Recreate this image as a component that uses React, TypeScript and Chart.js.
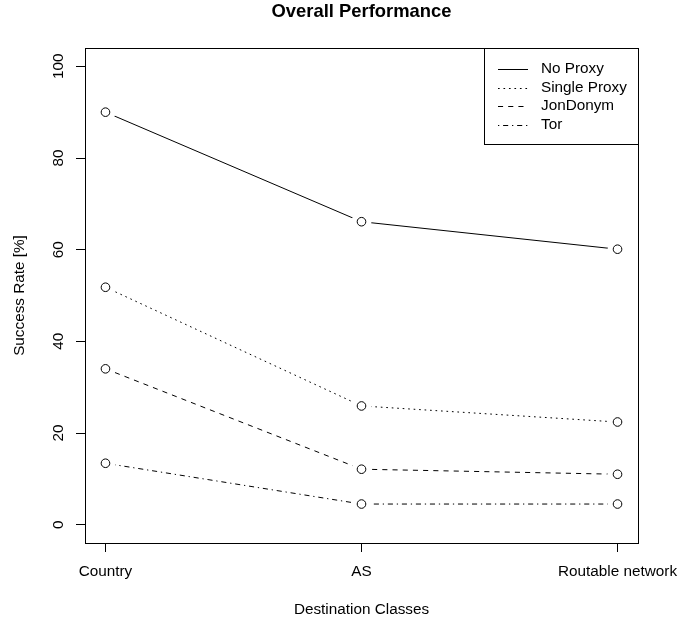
import React, { useEffect, useRef } from "react";
import { Chart, registerables } from "chart.js";

Chart.register(...registerables);

const categories = ["Country", "AS", "Routable network"];
const seriesNames = ["No Proxy", "Single Proxy", "JonDonym", "Tor"];
const noProxy = [90, 66.1, 60.1];
const singleProxy = [51.8, 25.9, 22.4];
const jonDonym = [34.0, 12.1, 11.0];
const tor = [13.4, 4.5, 4.5];
const yTicks = [0, 20, 40, 60, 80, 100];
const xTicks = [1, 2, 3];
const titleText = "Overall Performance";

const FONT = "'Liberation Sans', Arial, Helvetica, sans-serif";
const BASE = 15.3;
const S = BASE / 12;
const dashes: number[][] = [
  [],
  [1.3 * S, 3 * S],
  [4 * S, 4 * S],
  [1 * S, 3 * S, 4 * S, 3 * S],
];
const seriesValues = [noProxy, singleProxy, jonDonym, tor];

const frameAndLegend = {
  id: "frameAndLegend",
  afterDraw(chart: any) {
    const { ctx, chartArea } = chart;
    ctx.save();
    ctx.strokeStyle = "#000";
    ctx.lineWidth = 1;
    ctx.setLineDash([]);
    ctx.strokeRect(
      Math.round(chartArea.left) + 0.5,
      Math.round(chartArea.top) + 0.5,
      Math.round(chartArea.right - chartArea.left),
      Math.round(chartArea.bottom - chartArea.top)
    );
    // title
    ctx.fillStyle = "#000";
    ctx.font = `bold 18.4px ${FONT}`;
    ctx.textAlign = "center";
    ctx.textBaseline = "middle";
    ctx.fillText(titleText, (chartArea.left + chartArea.right) / 2, 12);
    // legend
    const w = 154;
    const h = 96;
    const lx = Math.round(chartArea.right) - w;
    const ly = Math.round(chartArea.top);
    ctx.fillStyle = "#fff";
    ctx.fillRect(lx + 0.5, ly + 0.5, w, h);
    ctx.strokeRect(lx + 0.5, ly + 0.5, w, h);
    ctx.font = `${BASE}px ${FONT}`;
    ctx.textBaseline = "middle";
    ctx.textAlign = "left";
    seriesNames.forEach((name, i) => {
      const yy = ly + 21 + i * 18.6;
      ctx.beginPath();
      ctx.setLineDash(dashes[i]);
      ctx.moveTo(lx + 14, Math.round(yy) + 0.5);
      ctx.lineTo(lx + 44, Math.round(yy) + 0.5);
      ctx.stroke();
      ctx.setLineDash([]);
      ctx.fillStyle = "#000";
      ctx.fillText(name, lx + 57, yy);
    });
    ctx.restore();
  },
};

export default function App() {
  const ref = useRef<HTMLCanvasElement | null>(null);
  useEffect(() => {
    if (!ref.current) return;
    const toPts = (arr: number[]) => arr.map((v, i) => ({ x: xTicks[i], y: v }));
    const datasets: any[] = [];
    seriesValues.forEach((vals, i) => {
      datasets.push({
        label: seriesNames[i],
        data: toPts(vals),
        borderColor: "#000",
        borderWidth: 1,
        borderDash: dashes[i],
        pointRadius: 0,
        fill: false,
        tension: 0,
        order: 3,
      });
    });
    seriesValues.forEach((vals, i) => {
      datasets.push({
        label: seriesNames[i] + " gap",
        data: toPts(vals),
        showLine: false,
        pointRadius: 10,
        pointBackgroundColor: "#fff",
        pointBorderWidth: 0,
        pointBorderColor: "#fff",
        order: 2,
      });
    });
    seriesValues.forEach((vals, i) => {
      datasets.push({
        label: seriesNames[i] + " pts",
        data: toPts(vals),
        showLine: false,
        pointRadius: 4.3,
        pointBackgroundColor: "#fff",
        pointBorderColor: "#000",
        pointBorderWidth: 1,
        order: 1,
      });
    });
    const chart = new Chart(ref.current, {
      type: "line",
      data: { datasets },
      options: {
        animation: false,
        responsive: false,
        devicePixelRatio: 1,
        events: [],
        layout: { padding: { left: 0, right: 44, top: 48, bottom: 0 } },
        plugins: {
          legend: { display: false },
          tooltip: { enabled: false },
          title: { display: false },
        },
        scales: {
          x: {
            type: "linear",
            min: 0.92,
            max: 3.08,
            afterBuildTicks: (scale: any) => {
              scale.ticks = xTicks.map((v) => ({ value: v }));
            },
            afterFit: (scale: any) => {
              scale.height = 83;
              scale.paddingLeft = 0;
              scale.paddingRight = 0;
            },
            ticks: {
              color: "#000",
              font: { family: FONT, size: BASE },
              padding: 11,
              maxRotation: 0,
              minRotation: 0,
              autoSkip: false,
              callback: (v: any) => categories[Math.round(Number(v)) - 1] ?? "",
            },
            grid: {
              display: true,
              drawOnChartArea: false,
              drawTicks: true,
              tickLength: 9,
              color: "#000",
              tickColor: "#000",
              lineWidth: 1,
            },
            border: { display: false },
            title: {
              display: true,
              text: "Destination Classes",
              color: "#000",
              font: { family: FONT, size: BASE, lineHeight: 1.2 },
              padding: { top: 0, bottom: 7 },
            },
          },
          y: {
            type: "linear",
            min: -4,
            max: 104,
            afterBuildTicks: (scale: any) => {
              scale.ticks = yTicks.map((v) => ({ value: v }));
            },
            afterFit: (scale: any) => {
              scale.width = 85;
              scale.paddingTop = 0;
              scale.paddingBottom = 0;
            },
            ticks: {
              color: "#000",
              font: { family: FONT, size: BASE },
              padding: 4,
              minRotation: 90,
              maxRotation: 90,
              crossAlign: "center",
              autoSkip: false,
            },
            grid: {
              display: true,
              drawOnChartArea: false,
              drawTicks: true,
              tickLength: 9,
              color: "#000",
              tickColor: "#000",
              lineWidth: 1,
            },
            border: { display: false },
            title: {
              display: true,
              text: "Success Rate [%]",
              color: "#000",
              font: { family: FONT, size: BASE, lineHeight: 1.2 },
              padding: { top: 10.5, bottom: 0 },
            },
          },
        },
      },
      plugins: [frameAndLegend],
    } as any);
    return () => chart.destroy();
  }, []);
  return (
    <div style={{ position: "absolute", left: 0, top: 0, width: 682, height: 626, background: "#fff" }}>
      <canvas ref={ref} width={682} height={626} />
    </div>
  );
}
